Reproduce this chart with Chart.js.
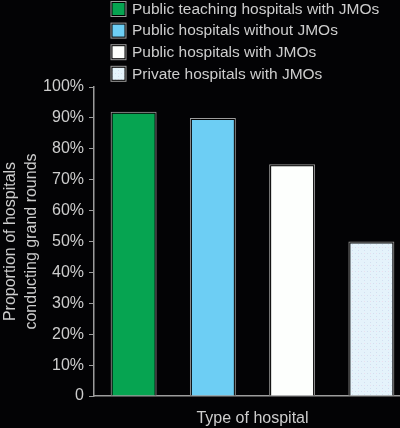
<!DOCTYPE html>
<html>
<head>
<meta charset="utf-8">
<script src="https://cdn.jsdelivr.net/npm/chart.js@4"></script>
<style>
html,body{margin:0;padding:0;background:#030305;overflow:hidden;width:400px;height:428px;}
#wrap{position:absolute;left:0;top:0;width:414px;height:428px;}
</style>
</head>
<body>
<div id="wrap"><canvas id="c" width="414" height="428"></canvas></div>
<script>
const categories = ["Public teaching hospitals with JMOs","Public hospitals without JMOs","Public hospitals with JMOs","Private hospitals with JMOs"];
const values = [92, 90, 75, 50];
const yTickValues = [0,10,20,30,40,50,60,70,80,90,100];
const yTickLabels = ["0","10%","20%","30%","40%","50%","60%","70%","80%","90%","100%"];
const yTitle = ["Proportion of hospitals","conducting grand rounds"];
const xTitle = "Type of hospital";

const FONT = "'Liberation Sans', Arial, Helvetica, sans-serif";
const TEXT = "#cdcdcd";
const LINE = "#9c9c9c";

function dotPattern(){
  const p = document.createElement('canvas');
  p.width = 6; p.height = 6;
  const g = p.getContext('2d');
  g.fillStyle = '#e5f3fb'; g.fillRect(0,0,6,6);
  g.fillStyle = '#d2dff0'; g.fillRect(1,1,1,1); g.fillRect(4,4,1,1);
  g.fillStyle = '#eadfee'; g.fillRect(4,1,1,1);
  return g.createPattern(p,'repeat');
}
const colors = ['#06a451','#6dcef4','#fdfffd', dotPattern()];

const legendPlugin = {
  id: 'stackLegend',
  afterDraw(chart){
    const ctx = chart.ctx;
    ctx.save();
    ctx.font = "15.5px " + FONT;
    ctx.textBaseline = 'middle';
    ctx.textAlign = 'left';
    categories.forEach((c,i)=>{
      const y = 1 + i*21.6;
      ctx.fillStyle = LINE;
      ctx.fillRect(110.5, y, 16, 16);
      ctx.fillStyle = '#000';
      ctx.fillRect(111.5, y+1, 14, 14);
      ctx.fillStyle = colors[i];
      ctx.fillRect(112.5, y+2, 12, 12);
      ctx.fillStyle = TEXT;
      ctx.fillText(c, 132, y + 8.5);
    });
    ctx.restore();
  }
};

new Chart(document.getElementById('c'), {
  type: 'bar',
  data: {
    labels: categories,
    datasets: [
      {
        data: values,
        backgroundColor: colors,
        borderColor: '#000',
        borderWidth: 2,
        borderSkipped: 'start',
        barPercentage: 0.58,
        categoryPercentage: 1,
        grouped: false,
        order: 2
      },
      {
        data: values,
        backgroundColor: 'rgba(0,0,0,0)',
        borderColor: LINE,
        borderWidth: 1,
        borderSkipped: 'start',
        barPercentage: 0.58,
        categoryPercentage: 1,
        grouped: false,
        order: 1
      }
    ]
  },
  options: {
    responsive: false,
    animation: false,
    devicePixelRatio: 1,
    layout: { padding: { top: 87, right: 3, bottom: 0, left: 0 } },
    plugins: { legend: { display: false }, tooltip: { enabled: false } },
    scales: {
      x: {
        grid: { display: false, drawTicks: false },
        border: { display: true, color: LINE, width: 1.5 },
        ticks: { display: false },
        title: {
          display: true, text: xTitle, color: TEXT,
          font: { family: FONT, size: 16, lineHeight: 1.2 },
          padding: { top: 12, bottom: 0 }
        },
        afterFit(s){ s.height = 32; }
      },
      y: {
        min: 0, max: 100,
        afterBuildTicks(s){ s.ticks = yTickValues.map(v=>({value:v})); },
        grid: { drawOnChartArea: false, drawTicks: true, tickLength: 5, color: LINE, lineWidth: 1 },
        border: { display: true, color: LINE, width: 1.5 },
        ticks: {
          color: TEXT, padding: 5,
          font: { family: FONT, size: 16 },
          callback: (v, i) => yTickLabels[yTickValues.indexOf(v)]
        },
        title: {
          display: true, text: yTitle, color: TEXT,
          font: { family: FONT, size: 16, lineHeight: 1.3 },
          padding: { top: 0, bottom: 0 }
        },
        afterFit(s){ s.width = 94; }
      }
    }
  },
  plugins: [legendPlugin]
});
</script>
</body>
</html>
